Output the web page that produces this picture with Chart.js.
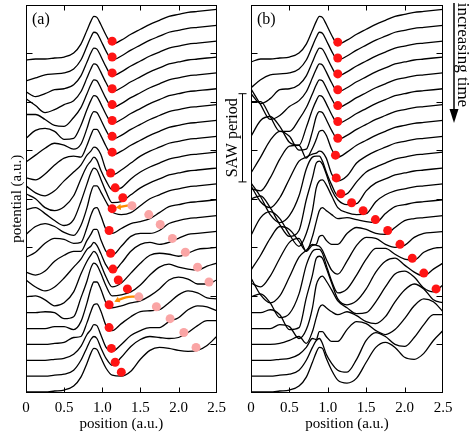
<!DOCTYPE html>
<html lang="en">
<head>
<meta charset="UTF-8">
<title>Potential snapshots</title>
<script src="https://cdn.jsdelivr.net/npm/chart.js@4.4.1/dist/chart.umd.min.js"></script>
<style>
  html, body { margin: 0; padding: 0; background: #fff; }
  #wrap { position: relative; width: 471px; height: 436px; }
  canvas { position: absolute; top: 0; }
  #chartA { left: 0; }
  #chartB { left: 222px; }
</style>
</head>
<body>
<div id="wrap">
  <canvas id="chartA" width="232" height="436"></canvas>
  <canvas id="chartB" width="249" height="436"></canvas>
</div>
<script>
const FONT = "'Liberation Serif', 'Times New Roman', serif";

// sample positions along the device (a.u.)
const positions = [0, 0.125, 0.25, 0.375, 0.5, 0.625, 0.72, 0.8, 0.85, 0.89, 0.93, 0.98, 1.05, 1.13,
                   1.25, 1.375, 1.5, 1.625, 1.75, 1.875, 2, 2.125, 2.25, 2.375, 2.5];
const xTicks = [0, 0.5, 1, 1.5, 2, 2.5];
const yTicks = [48, 97, 146, 195, 244, 293, 342];

// potential snapshots, top (earliest) to bottom (latest), stacked
const curvesA = [
  [335,336,336,337,338,342,351,365,374,379,378,371,360,351,355,361,366,371,375,379,381,383,384,385,386],
  [314,317,320,321,322,326,335,349,358,363,362,355,344,335,339,345,350,355,359,363,365,367,368,369,370],
  [303,298,301,305,306,310,319,333,342,347,346,339,328,319,323,329,334,339,343,347,349,351,352,353,354],
  [296,289,282,285,290,294,303,317,326,331,330,323,312,303,307,313,318,323,327,331,333,335,336,337,338],
  [280,280,275,269,268,277,287,301,310,315,314,307,296,287,291,297,302,307,311,315,317,319,320,321,322],
  [256,264,266,263,255,256,269,285,294,299,298,291,280,271,275,281,286,291,295,299,301,303,304,305,306],
  [232,239,246,251,249,245,250,266,278,283,282,275,264,255,259,265,270,275,279,283,285,287,288,289,290],
  [216,214,220,229,236,238,237,249,259,265,265,259,248,239,243,249,254,259,263,267,269,271,272,273,274],
  [208,201,198,203,213,222,229,239,243,247,246,240,224,219,224,231,238,243,247,251,253,255,256,257,258],
  [200,195,186,183,187,198,215,228,233,237,234,224,213,204,206,215,222,227,231,235,237,239,240,241,242],
  [184,186,180,173,168,174,192,210,221,226,224,215,202,191,192,199,206,211,215,219,221,223,224,225,226],
  [159,167,170,167,161,158,168,186,201,208,208,202,192,182,179,181,188,195,199,203,205,207,208,209,210],
  [136,141,150,155,154,150,151,166,178,185,186,178,164,160,165,170,172,175,181,187,189,191,192,193,194],
  [121,118,122,132,138,142,142,153,159,164,164,154,142,138,147,157,160,160,163,170,173,175,176,177,178],
  [113,106,102,106,115,126,134,144,147,151,148,140,128,121,130,142,149,151,149,151,155,159,160,161,162],
  [96,97,93,87,90,101,119,132,138,142,139,129,116,106,110,120,130,138,140,139,137,140,144,145,146],
  [80,80,81,80,74,76,95,112,125,130,128,120,107,97,98,101,108,118,126,129,126,124,123,127,130],
  [64,64,64,66,66,63,71,90,104,111,111,104,90,85,87,90,92,97,104,113,116,114,109,109,113],
  [48,48,48,49,50,55,56,70,81,88,89,82,67,62,69,76,81,82,83,90,98,102,100,95,94],
  [32,32,32,33,34,38,46,58,63,68,67,58,45,41,48,57,62,65,65,71,75,83,87,86,82],
  [16,16,16,17,18,22,32,45,53,56,54,45,34,27,35,46,53,56,55,54,55,60,67,72,72],
  [0,0,0,1,2,6,15,29,39,44,43,35,24,17,16,21,33,42,45,44,42,41,42,47,56]
];

const curvesB = [
  [333,336,336,337,338,342,351,365,374,379,378,371,360,351,355,361,366,371,375,379,381,383,384,385,386],
  [307,315,320,321,322,326,335,349,358,363,362,355,344,335,339,345,350,355,359,363,365,367,368,369,370],
  [301,291,296,305,306,310,319,333,342,347,346,339,328,319,323,329,334,339,343,347,349,351,352,353,354],
  [306,290,275,279,288,294,303,317,326,331,330,323,312,303,307,313,318,323,327,331,333,335,336,337,338],
  [293,293,278,263,263,275,287,301,310,315,314,307,296,287,291,297,302,307,311,315,317,319,320,321,322],
  [258,274,278,268,252,249,267,285,294,299,298,291,280,271,275,281,286,291,295,299,301,303,304,305,306],
  [221,237,254,263,258,244,245,263,278,283,282,275,264,255,259,265,270,275,279,283,285,287,288,289,290],
  [205,203,216,235,248,249,236,246,255,263,264,259,245,237,242,249,254,259,263,267,269,271,272,273,274],
  [208,192,186,196,215,233,237,240,241,243,242,236,220,213,218,231,238,243,247,251,253,255,256,257,258],
  [211,197,179,171,178,198,225,237,238,238,233,222,209,198,200,212,222,227,231,235,237,239,240,241,242],
  [195,198,186,169,157,163,194,216,231,233,230,220,204,194,189,190,203,211,215,219,221,223,224,225,226],
  [158,176,182,175,159,147,160,183,206,213,214,209,198,186,181,179,180,192,199,203,205,207,208,209,210],
  [123,138,155,167,164,152,142,157,172,183,186,183,179,175,176,174,172,171,180,187,189,191,192,193,194],
  [110,106,117,135,151,155,142,148,149,157,158,153,149,149,160,166,164,160,159,166,173,175,176,177,178],
  [115,98,90,97,116,136,143,149,148,147,143,134,123,119,132,148,156,155,149,146,148,156,160,161,162],
  [96,99,90,75,79,99,128,142,144,144,140,128,112,100,104,118,134,145,145,139,134,133,141,145,146],
  [80,80,83,78,63,65,95,118,135,137,135,125,110,94,88,92,104,121,132,135,128,121,117,124,130],
  [64,64,64,68,66,54,63,85,108,115,117,112,103,92,85,79,80,91,106,119,122,116,105,101,108],
  [48,48,48,49,52,56,49,61,75,85,88,85,81,78,81,77,71,69,76,91,103,109,104,93,90],
  [32,32,32,33,34,38,45,54,53,61,61,56,51,51,63,71,69,62,58,63,74,87,94,91,81],
  [16,16,16,17,18,22,32,45,52,54,49,38,29,22,20,33,52,60,56,48,46,55,68,78,78],
  [0,0,0,1,2,6,15,30,40,45,44,34,22,12,9,14,30,45,50,45,35,33,39,52,62]
];

// electron positions
const redAx = [1.13,1.13,1.13,1.13,1.13,1.13,1.13,1.13,1.11,1.17,1.27,1.13,1.09,1.11,1.14,1.21,1.33,1.09,1.09,1.12,1.17,1.25];
const redAy = [354,338,322,306,290,274,258,242,221,206,196,185,163,140,124,113,104,88,65,44,30,20];
const pinkAx = [1.39,1.61,1.76,1.92,2.09,2.25,2.40,1.48,1.71,1.89,2.07,2.23];
const pinkAy = [188,179,169,155,141,126,111,96,86,74,60,45];
const redBx = [1.13,1.13,1.13,1.13,1.13,1.13,1.13,1.10,1.11,1.17,1.31,1.46,1.62,1.78,1.94,2.10,2.25,2.41];
const redBy = [353,337,321,305,289,273,256,239,216,200,191,183,174,163,149,135,120,104];

// return arrows in panel (a)
const arrow1x = [1.365, 1.29, 1.22];
const arrow1y = [188.5, 187.5, 186.5];
const arrow2x = [1.44, 1.31, 1.20];
const arrow2y = [96.5, 95.5, 92.5];

// one SAW period on the time (stack) axis
const sawPeriod = [212, 301];

function toPoints(xs, ys) {
  return xs.map((x, i) => ({ x: x, y: ys[i] }));
}

function curveSets(curves) {
  return curves.map(ys => ({
    type: 'line',
    data: toPoints(positions, ys),
    borderColor: '#000',
    borderWidth: 1.3,
    pointRadius: 0,
    cubicInterpolationMode: 'monotone',
    fill: false,
    order: 5
  }));
}

function dotSet(xs, ys, color) {
  return {
    type: 'scatter',
    data: toPoints(xs, ys),
    backgroundColor: color,
    borderWidth: 0,
    pointRadius: 4.5,
    order: 1
  };
}

function arrowSet(xs, ys, rot) {
  const last = xs.length - 1;
  return {
    type: 'line',
    data: toPoints(xs, ys),
    borderColor: 'rgb(255,140,0)',
    borderWidth: 2.4,
    tension: 0.4,
    pointStyle: 'triangle',
    pointRadius: c => c.dataIndex === last ? 3.5 : 0,
    pointRotation: rot,
    pointBackgroundColor: 'rgb(255,140,0)',
    pointBorderWidth: 0,
    order: 2
  };
}

const decor = {
  id: 'decor',
  afterDraw(chart, args, opts) {
    const { ctx, chartArea: a, scales: { x, y } } = chart;
    ctx.save();
    ctx.strokeStyle = '#000';
    ctx.lineWidth = 1;
    const L = Math.round(a.left) + 0.5, R = Math.round(a.right) - 0.5;
    const T = Math.round(a.top) + 0.5, B = Math.round(a.bottom) - 0.5;
    ctx.strokeRect(L, T, R - L, B - T);
    ctx.beginPath();
    xTicks.slice(1, -1).forEach(v => {
      const px = Math.round(x.getPixelForValue(v)) + 0.5;
      ctx.moveTo(px, B); ctx.lineTo(px, B - 5);
      ctx.moveTo(px, T); ctx.lineTo(px, T + 5);
    });
    yTicks.forEach(v => {
      const py = Math.round(y.getPixelForValue(v)) + 0.5;
      ctx.moveTo(L, py); ctx.lineTo(L + 6, py);
      ctx.moveTo(R, py); ctx.lineTo(R - 6, py);
    });
    ctx.stroke();

    ctx.fillStyle = '#000';
    ctx.font = '16px ' + FONT;
    ctx.textAlign = 'left';
    ctx.textBaseline = 'alphabetic';
    ctx.fillText(opts.label, a.left + 6, a.top + 19);

    if (opts.saw) {
      const bx = Math.round(a.left - 9) + 0.5;
      const y1 = y.getPixelForValue(sawPeriod[1]);
      const y2 = y.getPixelForValue(sawPeriod[0]);
      ctx.beginPath();
      ctx.moveTo(bx, y1); ctx.lineTo(bx, y2);
      ctx.moveTo(bx - 4, y1); ctx.lineTo(bx + 4, y1);
      ctx.moveTo(bx - 4, y2); ctx.lineTo(bx + 4, y2);
      ctx.stroke();
      ctx.save();
      ctx.translate(a.left - 18, (y1 + y2) / 2);
      ctx.rotate(-Math.PI / 2);
      ctx.textAlign = 'center';
      ctx.textBaseline = 'middle';
      ctx.fillText('SAW period', 0, 0);
      ctx.restore();

      // time arrow
      const ax = a.right + 11;
      ctx.lineWidth = 1.5;
      ctx.beginPath();
      ctx.moveTo(ax, 3); ctx.lineTo(ax, 112);
      ctx.stroke();
      ctx.beginPath();
      ctx.moveTo(ax - 4.5, 109); ctx.lineTo(ax + 4.5, 109); ctx.lineTo(ax, 123);
      ctx.closePath();
      ctx.fill();
      ctx.save();
      ctx.translate(ax + 8, 55);
      ctx.rotate(Math.PI / 2);
      ctx.font = '17px ' + FONT;
      ctx.textAlign = 'center';
      ctx.textBaseline = 'middle';
      ctx.fillText('increasing time', 0, 0);
      ctx.restore();
    }
    ctx.restore();
  }
};

function makeChart(id, datasets, opts) {
  const tickFont = { family: FONT, size: 15 };
  return new Chart(document.getElementById(id), {
    type: 'line',
    data: { datasets: datasets },
    options: {
      responsive: false,
      animation: false,
      events: [],
      layout: { padding: { left: 0, right: opts.padRight, top: 1, bottom: 0 } },
      plugins: {
        legend: { display: false },
        tooltip: { enabled: false },
        decor: { label: opts.label, saw: opts.saw }
      },
      scales: {
        x: {
          type: 'linear',
          min: 0,
          max: 2.5,
          afterBuildTicks: s => { s.ticks = xTicks.map(v => ({ value: v })); },
          ticks: { font: tickFont, color: '#000', padding: 6, maxRotation: 0, autoSkip: false },
          grid: { display: false, drawTicks: false },
          border: { display: false },
          title: { display: true, text: 'position (a.u.)', font: tickFont, color: '#000',
                   padding: { top: 0, bottom: 3 } },
          afterFit: s => { s.height = 43; }
        },
        y: {
          type: 'linear',
          min: -1,
          max: 391,
          ticks: { display: false },
          grid: { display: false, drawTicks: false },
          border: { display: false },
          title: { display: opts.yTitle, text: 'potential (a.u.)', font: tickFont, color: '#000',
                   padding: { top: 8, bottom: 0 } },
          afterFit: s => { s.width = opts.yWidth; }
        }
      }
    },
    plugins: [decor]
  });
}

const dsA = [
  dotSet(redAx, redAy, 'rgb(255,20,20)'),
  dotSet(pinkAx, pinkAy, 'rgb(250,165,165)'),
  arrowSet(arrow1x, arrow1y, 265),
  arrowSet(arrow2x, arrow2y, 245)
].concat(curveSets(curvesA));

const dsB = [
  dotSet(redBx, redBy, 'rgb(255,20,20)')
].concat(curveSets(curvesB));

makeChart('chartA', dsA, { label: '(a)', saw: false, yTitle: true, yWidth: 26, padRight: 13.5 });
makeChart('chartB', dsB, { label: '(b)', saw: true, yTitle: false, yWidth: 29, padRight: 28 });
</script>
</body>
</html>
